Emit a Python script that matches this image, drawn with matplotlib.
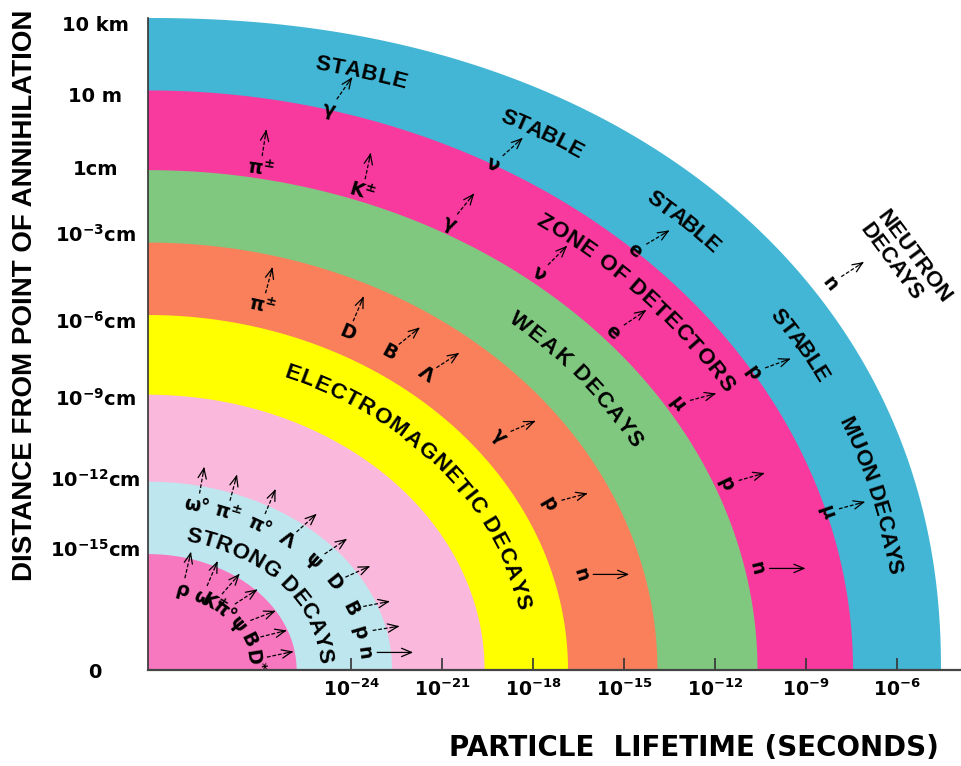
import numpy as np
import matplotlib.pyplot as plt
from matplotlib.font_manager import FontProperties

plt.rcParams['font.family'] = ['DejaVu Sans']
plt.rcParams['font.weight'] = 'bold'
plt.rcParams['mathtext.fontset'] = 'dejavusans'
plt.rcParams['mathtext.default'] = 'bf'

# bands from the inside out: outer edge on the lifetime axis (log10 s) and on the distance axis
band_colors = ['#F778BE', '#BEE6EE', '#FAB9DC', '#FFFF00', '#FA805C', '#80C880', '#F83A9E', '#42B6D4']
band_lifetime = [-25.8, -22.65, -19.6, -16.85, -13.9, -10.6, -7.45, -4.55]
band_distance = [1.6, 2.6, 3.8, 4.9, 5.9, 6.9, 8.0, 9.0]
origin = -30.7
outer_bulge = 0.15  # outermost edge is a little squarer than an ellipse

lifetime_ticks = [-24, -21, -18, -15, -12, -9, -6]
lifetime_labels = ['10$^{%d}$' % v for v in lifetime_ticks]
distance_ticks = [0, 1.68, 2.65, 3.77, 4.83, 6.03, 6.93, 7.95, 8.92]
distance_labels = ['0', '10$^{-15}$cm', '10$^{-12}$cm', '10$^{-9}$cm', '10$^{-6}$cm',
                   '10$^{-3}$cm', '1cm', '10 m', '10 km']

# band titles: position across the bands (band index + fraction), arc angle of first and last letter
title_text = ['STRONG DECAYS', 'ELECTROMAGNETIC DECAYS', 'WEAK DECAYS', 'ZONE OF DETECTORS',
              'STABLE', 'STABLE', 'STABLE', 'STABLE', 'MUON DECAYS']
title_r = [1.3, 3.55, 5.5, 6.67, 7.55, 7.55, 7.55, 7.55, 7.55]
title_t0 = [75, 67.9, 48.4, 54, 77.4, 62.4, 48.6, 33.8, 22.2]
title_t1 = [6.2, 12.4, 29.9, 31.1, 71.4, 56.4, 42.5, 27.6, 8.9]

# particles: label, position across the bands, arc angle, arrow direction (deg)
part_label = ['ρ', 'ω', 'K$^{\\pm}$', 'π°', 'ψ', 'B', 'D$^{*}$',
              'ω°', 'π$^{\\pm}$', 'π°', 'Λ', 'ψ', 'D', 'B', 'p', 'n',
              'π$^{\\pm}$', 'D', 'B', 'Λ', 'γ', 'p', 'n',
              'π$^{\\pm}$', 'K$^{\\pm}$', 'γ', 'ν', 'e', 'μ', 'p', 'n',
              'γ', 'ν', 'e', 'p', 'μ',
              'n']
part_r = [0.72] * 7 + [1.72] * 9 + [4.3] * 7 + [6.12] * 8 + [7.0] * 5 + [8.2]
part_t = [71.5, 59.7, 52.3, 44.8, 32.5, 21, 7,
          76.9, 68.8, 59, 50.3, 40.3, 31.4, 21.3, 12.9, 6,
          75.2, 63.4, 57.4, 51.6, 38.3, 26.2, 14.7,
          79.6, 69.8, 61, 51, 41.5, 31.5, 21.4, 11.5,
          75.1, 60.7, 46.3, 30.9, 15.8,
          33.8]
part_dir = [77, 67, 49, 33, 21, 14, 12,
            80, 75, 67, 42, 34, 24, 11, 9, 0,
            75, 67, 39, 33, 23, 15, 0,
            81, 78, 51, 45, 34, 15, 16, 0,
            55, 42, 31, 20, 15,
            33]
part_solid = [False] * len(part_label)
for k in (15, 22, 30):
    part_solid[k] = True

fig = plt.figure(figsize=(9.61, 7.66), dpi=100)
ax = fig.add_axes([148 / 961, 96 / 766, 813 / 961, 652 / 766])
ax.set_xlim(origin, -3.89)
ax.set_ylim(0, 9.0)

xs = np.r_[0, np.subtract(band_lifetime, origin)]
ys = np.r_[0, band_distance]
n_bands = len(band_lifetime)


def band_point(r, t):
    i = min(int(r), n_bands - 1)
    rx = xs[i] + (r - i) * (xs[i + 1] - xs[i])
    ry = ys[i] + (r - i) * (ys[i + 1] - ys[i])
    p = 2 + outer_bulge * np.clip(r - (n_bands - 1), 0, 1)
    tr = np.radians(t)
    return origin + rx * np.abs(np.cos(tr)) ** (2 / p), ry * np.abs(np.sin(tr)) ** (2 / p)


def tangent(r, t):
    p = ax.transData.transform(np.column_stack(band_point(r, np.array([t + 0.3, t - 0.3]))))
    return np.degrees(np.arctan2(p[1, 1] - p[0, 1], p[1, 0] - p[0, 0]))


# quarter-ellipse bands, outermost first
tt = np.linspace(0, 90, 300)
for k in range(n_bands - 1, -1, -1):
    bx, by = band_point(k + 1, tt)
    ax.fill(np.r_[origin, bx], np.r_[0, by], color=band_colors[k], lw=0, zorder=1)

renderer = fig.canvas.get_renderer()
title_font = FontProperties(family=['Liberation Sans', 'DejaVu Sans'], weight='bold', size=16)


def width(s):
    return renderer.get_text_width_height_descent(s, title_font, ismath=False)[0]


def arc_text(text, r, t0, t1):
    right = np.array([width(text[:i + 1] + 'H') - width('H') for i in range(len(text))])
    left = np.r_[0, right[:-1]]
    mid = (left + right) / 2
    frac = (mid - mid[0]) / (mid[-1] - mid[0])
    ts = np.linspace(t0, t1, 400)
    pts = ax.transData.transform(np.column_stack(band_point(r, ts)))
    s = np.r_[0, np.cumsum(np.hypot(*np.diff(pts, axis=0).T))]
    for ch, f in zip(text, frac):
        if ch == ' ':
            continue
        tc = np.interp(f * s[-1], s, ts)
        x, y = band_point(r, tc)
        ax.text(x, y, ch, fontproperties=title_font, rotation=tangent(r, tc),
                rotation_mode='anchor', ha='center', va='center', zorder=4)


for text, r, t0, t1 in zip(title_text, title_r, title_t0, title_t1):
    arc_text(text, r, t0, t1)

# two-line label outside the outer band
nx, ny = band_point(9.05, 32.3)
ax.text(nx, ny, 'NEUTRON\nDECAYS', fontproperties=title_font, rotation=tangent(9.05, 32.3),
        rotation_mode='anchor', ha='center', va='center', multialignment='left',
        linespacing=1.0, zorder=4)


def arrow(x, y, ang, solid):
    p = ax.transData.transform((x, y))
    d = np.array([np.cos(np.radians(ang)), np.sin(np.radians(ang))])
    length = 36 if solid else 27
    inv = ax.transData.inverted()
    tail = inv.transform(p + 13 * d)
    tip = inv.transform(p + (13 + length) * d)
    head = dict(arrowstyle='->,head_length=0.6,head_width=0.25', lw=0.9, color='k',
                shrinkA=0, shrinkB=0, mutation_scale=12)
    if solid:
        ax.annotate('', xy=tip, xytext=tail, arrowprops=head, zorder=3)
    else:
        ax.plot([tail[0], tip[0]], [tail[1], tip[1]], color='k', lw=0.9,
                ls=(0, (3, 1.5)), zorder=3)
        ax.annotate('', xy=tip, xytext=inv.transform(p + (7 + length) * d),
                    arrowprops=head, zorder=3)


for lab, r, t, ang, solid in zip(part_label, part_r, part_t, part_dir, part_solid):
    x, y = band_point(r, t)
    ax.text(x, y, lab, fontsize=13.5, fontweight='bold', rotation=tangent(r, t),
            rotation_mode='anchor', ha='center', va='center', zorder=4)
    arrow(x, y, ang, solid)

ax.set_xticks(lifetime_ticks, lifetime_labels)
ax.set_yticks(distance_ticks, distance_labels)
ax.tick_params(axis='x', direction='in', length=8.5, width=1.2, color='#333333',
               pad=6, labelsize=13.5)
ax.tick_params(axis='y', length=0, pad=38, labelsize=14)
for lbl in ax.get_yticklabels():
    lbl.set_ha('center')
for side in ('top', 'right'):
    ax.spines[side].set_visible(False)
ax.spines['left'].set_color('#333333')
ax.spines['left'].set_linewidth(1.2)
ax.spines['bottom'].set_color('#444444')
ax.spines['bottom'].set_linewidth(1.6)
ax.spines['left'].set_zorder(5)
ax.spines['bottom'].set_zorder(5)

fig.text(25 / 961, 1 - 295 / 766, 'DISTANCE FROM POINT OF ANNIHILATION', rotation=90,
         ha='center', va='center', family=['Liberation Sans', 'DejaVu Sans'],
         fontweight='bold', fontsize=20)
fig.text(694 / 961, 1 - 748 / 766, 'PARTICLE  LIFETIME (SECONDS)', ha='center', va='center',
         fontweight='bold', fontsize=20)

fig.savefig('out.png', dpi=100)
